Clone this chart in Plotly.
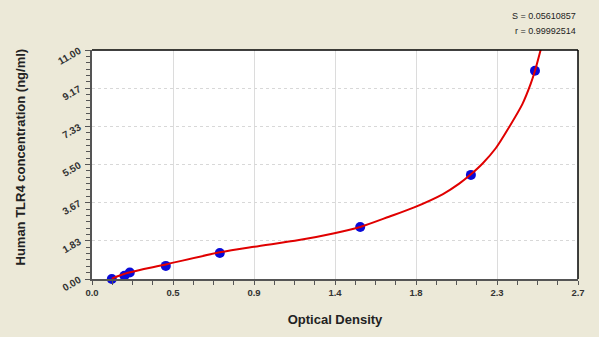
import plotly.graph_objects as go

# Standard points (optical density vs concentration)
od = [0.11, 0.18, 0.21, 0.41, 0.71, 1.49, 2.105, 2.461]
conc = [0.0, 0.16, 0.31, 0.63, 1.25, 2.5, 5.0, 10.0]

# Fitted curve
curve_x = [0.11, 0.2, 0.41, 0.71, 0.9, 1.15, 1.34, 1.49, 1.65, 1.79, 1.95, 2.04,
           2.105, 2.17, 2.243, 2.317, 2.391, 2.437, 2.461, 2.498]
curve_y = [0.02, 0.3, 0.7, 1.28, 1.55, 1.87, 2.19, 2.5, 2.99, 3.44, 4.08, 4.58,
           5.03, 5.55, 6.28, 7.29, 8.4, 9.37, 10.0, 11.19]

x_tickvals = [0, 0.45, 0.9, 1.35, 1.8, 2.25, 2.7]
x_ticktext = ["0.0", "0.5", "0.9", "1.4", "1.8", "2.3", "2.7"]
y_tickvals = [0, 11/6, 22/6, 33/6, 44/6, 55/6, 11]
y_ticktext = ["0.00", "1.83", "3.67", "5.50", "7.33", "9.17", "11.00"]

stat_s = "S = 0.05610857"
stat_r = "r = 0.99992514"
x_title = "Optical Density"
y_title = "Human TLR4 concentration (ng/ml)"

fig = go.Figure()
fig.add_trace(go.Scatter(x=od, y=conc, mode="markers",
                         marker=dict(color="#0a0ad8", size=10, line=dict(width=0)),
                         cliponaxis=False, showlegend=False))
fig.add_trace(go.Scatter(x=curve_x, y=curve_y, mode="lines", line_shape="spline",
                         line=dict(color="#e00000", width=2, smoothing=0.8), showlegend=False))

font = "Liberation Sans, Arial, sans-serif"
fig.update_layout(
    width=599, height=337,
    margin=dict(l=92, r=21, t=50, b=58),
    paper_bgcolor="#ECE9D8", plot_bgcolor="#FFFFFF",
    font=dict(family=font, color="#222222"),
    xaxis=dict(range=[0, 2.7], tickvals=x_tickvals, ticktext=x_ticktext,
               tickfont=dict(size=9.5, family=font, color="#333333", weight="bold"),
               ticks="outside", ticklen=4, tickcolor="#555555",
               minor=dict(dtick=0.1125, ticks="outside", ticklen=4, tickcolor="#555555", showgrid=False),
               showgrid=True, gridcolor="#dcdcdc", gridwidth=1,
               showline=True, linecolor="#555555", linewidth=1.5, mirror=False,
               zeroline=False,
               title=dict(text=x_title, standoff=18,
                          font=dict(size=13, family=font, color="#222222", weight="bold"))),
    yaxis=dict(range=[0, 11], tickvals=y_tickvals, ticktext=y_ticktext,
               tickangle=-30, ticklabelstandoff=4,
               tickfont=dict(size=10, family=font, color="#333333", weight="bold"),
               ticks="outside", ticklen=5, tickcolor="#555555",
               minor=dict(dtick=11/36, ticks="outside", ticklen=4, tickcolor="#555555", showgrid=False),
               showgrid=True, gridcolor="#d8d8d8", griddash="dot", gridwidth=1,
               showline=True, linecolor="#555555", linewidth=1.5, mirror=False,
               zeroline=False),
    shapes=[
        dict(type="line", xref="paper", yref="paper", x0=0, x1=1, y0=1, y1=1,
             line=dict(color="#000000", width=1.5)),
        dict(type="line", xref="paper", yref="paper", x0=1, x1=1, y0=0, y1=1,
             line=dict(color="#000000", width=1.5)),
    ],
    annotations=[
        dict(text=y_title, xref="paper", yref="paper", x=0, y=0.5, xshift=-72, yshift=7,
             textangle=-90, xanchor="center", yanchor="middle", showarrow=False,
             font=dict(size=13, family=font, color="#222222", weight="bold")),
        dict(text=stat_s, xref="paper", yref="paper", x=1, y=1, yshift=34,
             xanchor="right", yanchor="middle", showarrow=False,
             font=dict(size=9, family=font, color="#222222")),
        dict(text=stat_r, xref="paper", yref="paper", x=1, y=1, yshift=19,
             xanchor="right", yanchor="middle", showarrow=False,
             font=dict(size=9, family=font, color="#222222")),
    ],
)

fig.write_html("out.html")
